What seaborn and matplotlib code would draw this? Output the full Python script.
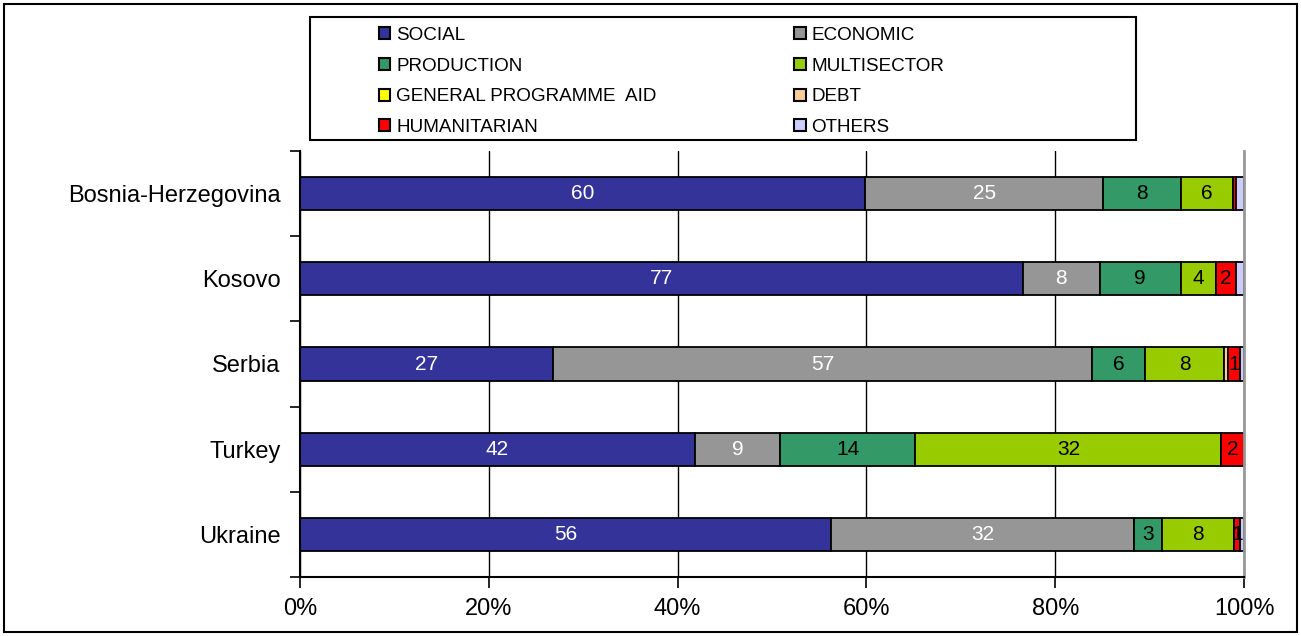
import seaborn as sns
import matplotlib.pyplot as plt
import matplotlib.patches as mpatches
import pandas as pd
import numpy as np

paises = ["Bosnia-Herzegovina", "Kosovo", "Serbia", "Turkey", "Ukraine"]
sectores = ["SOCIAL", "ECONOMIC", "PRODUCTION", "MULTISECTOR",
            "GENERAL PROGRAMME  AID", "DEBT", "HUMANITARIAN", "OTHERS"]

social = [59.9, 76.6, 26.8, 41.8, 56.3]
economic = [25.2, 8.1, 57.1, 9.1, 32.0]
production = [8.2, 8.6, 5.6, 14.3, 3.0]
multisector = [5.5, 3.7, 8.4, 32.4, 7.6]
general_aid = [0.0, 0.0, 0.0, 0.0, 0.0]
debt = [0.0, 0.0, 0.4, 0.0, 0.0]
humanitarian = [0.4, 2.2, 1.3, 2.4, 0.7]
others = [0.8, 0.8, 0.4, 0.0, 0.4]

colors = ["#333399", "#969696", "#339966", "#99CC00",
          "#FFFF00", "#FFCC99", "#FF0000", "#CCCCFF"]
label_colors = ["white", "white", "black", "black", "black", "black", "black", "black"]

df = pd.DataFrame({
    "SOCIAL": social, "ECONOMIC": economic, "PRODUCTION": production,
    "MULTISECTOR": multisector, "GENERAL PROGRAMME  AID": general_aid,
    "DEBT": debt, "HUMANITARIAN": humanitarian, "OTHERS": others,
}, index=paises)

sns.set_style("white")
plt.rcParams['font.family'] = ['Liberation Sans', 'DejaVu Sans']
plt.rcParams['text.color'] = 'black'
plt.rcParams['xtick.color'] = 'black'
plt.rcParams['ytick.color'] = 'black'

fig = plt.figure(figsize=(13.01, 6.36), dpi=100)
ax = fig.add_axes([300/1301, 1-577/636, 944/1301, 426/636])

ax.set_axisbelow(True)
df.plot(kind='barh', stacked=True, ax=ax, width=0.39, color=colors,
        edgecolor='black', linewidth=1.3, legend=False)

# etiquetas de datos
for cont, col, lc in zip(ax.containers, sectores, label_colors):
    vals = df[col].values
    labs = ["" if (col == "OTHERS" or v < 0.5) else str(int(round(v))) for v in vals]
    ax.bar_label(cont, labels=labs, label_type='center', color=lc, fontsize=15)

ax.set_xlim(0, 100)
ax.set_ylim(4.5, -0.5)
ax.set_xticks([0, 20, 40, 60, 80, 100])
ax.set_xticklabels(["0%", "20%", "40%", "60%", "80%", "100%"])
ax.xaxis.grid(True, color='black', linewidth=1)
ax.yaxis.grid(False)
ax.tick_params(axis='x', direction='out', length=8, width=1.2, color='black',
               labelsize=17, pad=7, bottom=True)
ax.tick_params(axis='y', which='major', length=0, labelsize=17, pad=14)
ax.set_yticks(np.arange(-0.5, 5.0, 1.0), minor=True)
ax.tick_params(axis='y', which='minor', direction='out', length=7, width=1.2,
               color='black', left=True)
ax.set_ylabel("")
ax.set_xlabel("")

for s in ["left", "bottom"]:
    ax.spines[s].set_color('black')
    ax.spines[s].set_linewidth(1.5)
ax.spines["top"].set_visible(False)
ax.spines["right"].set_color('#999999')
ax.spines["right"].set_linewidth(2)

# leyenda
orden = [0, 2, 4, 6, 1, 3, 5, 7]
handles = [mpatches.Patch(facecolor=colors[i], edgecolor='black', linewidth=1.5) for i in orden]
labels = [sectores[i] for i in orden]
fig.legend(handles, labels, ncol=2, loc='upper left',
           bbox_to_anchor=(379/1301, 1-27/636), frameon=False, fontsize=13.6,
           handlelength=0.6, handleheight=0.6, handletextpad=0.3,
           columnspacing=7.3, labelspacing=0.72, borderpad=0, borderaxespad=0)
fig.patches.append(mpatches.Rectangle((310/1301, 1-140/636), 826/1301, 123/636,
                                      transform=fig.transFigure, fill=False,
                                      edgecolor='black', linewidth=1.5))
# borde exterior
fig.patches.append(mpatches.Rectangle((4/1301, 4/636), 1293/1301, 628/636,
                                      transform=fig.transFigure, fill=False,
                                      edgecolor='black', linewidth=1.5))

plt.savefig("out.png", dpi=100)
